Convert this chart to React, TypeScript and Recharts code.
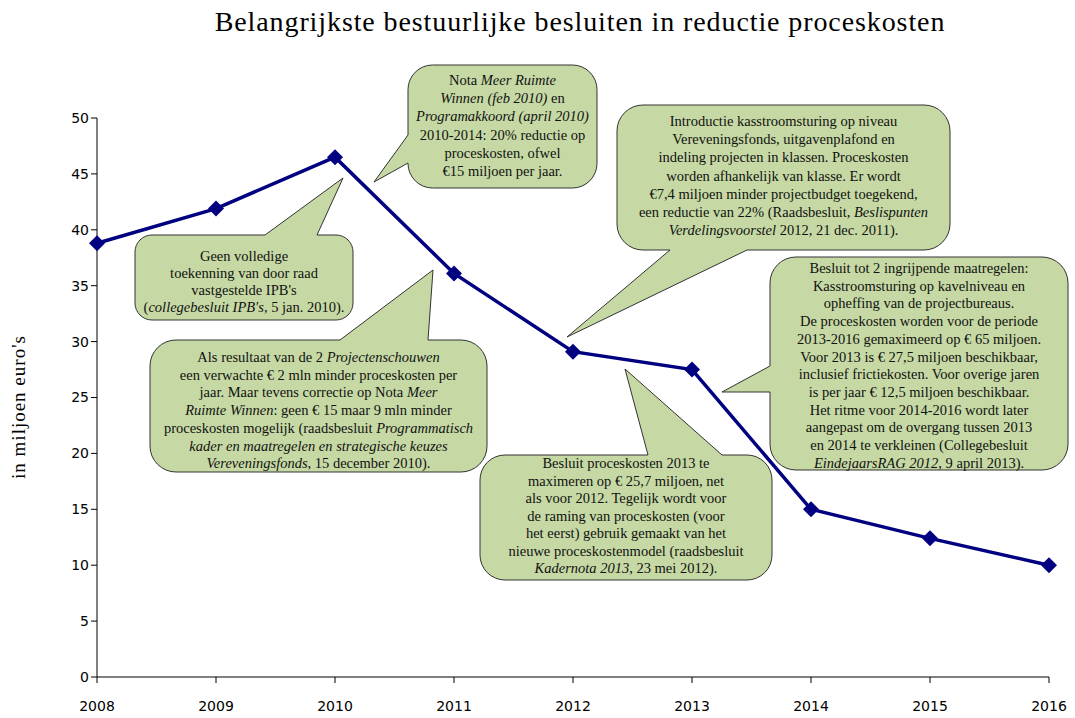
import { LineChart, Line, XAxis, YAxis } from "recharts"

const years = ["2008", "2009", "2010", "2011", "2012", "2013", "2014", "2015", "2016"]
const costs = [38.8, 41.9, 46.5, 36.1, 29.1, 27.5, 15.0, 12.4, 10.0]
const yTicks = [0, 5, 10, 15, 20, 25, 30, 35, 40, 45, 50]

const title = "Belangrijkste bestuurlijke besluiten in reductie proceskosten"
const yLabel = "in miljoen euro's"

// *...* marks italic
const notaLines = [
  "Nota *Meer Ruimte*",
  "*Winnen (feb 2010)* en",
  "*Programakkoord (april 2010)*",
  "2010-2014: 20% reductie op",
  "proceskosten, ofwel",
  "€15 miljoen per jaar.",
]
const kasstroomLines = [
  "Introductie kasstroomsturing op niveau",
  "Vereveningsfonds, uitgavenplafond en",
  "indeling projecten in klassen. Proceskosten",
  "worden afhankelijk van klasse. Er wordt",
  "€7,4 miljoen minder projectbudget toegekend,",
  "een reductie van 22% (Raadsbesluit, *Beslispunten*",
  "*Verdelingsvoorstel* 2012, 21 dec. 2011).",
]
const ipbLines = [
  "Geen volledige",
  "toekenning van door raad",
  "vastgestelde IPB's",
  "(*collegebesluit IPB's*, 5 jan. 2010).",
]
const schouwLines = [
  "Als resultaat van de 2 *Projectenschouwen*",
  "een verwachte € 2 mln minder proceskosten per",
  "jaar. Maar tevens correctie op Nota *Meer*",
  "*Ruimte Winnen*: geen € 15 maar 9 mln minder",
  "proceskosten mogelijk (raadsbesluit *Programmatisch*",
  "*kader en maatregelen en strategische keuzes*",
  "*Vereveningsfonds*, 15 december 2010).",
]
const ingrijpLines = [
  "Besluit tot 2 ingrijpende maatregelen:",
  "Kasstroomsturing op kavelniveau en",
  "opheffing van de projectbureaus.",
  "De proceskosten worden voor de periode",
  "2013-2016 gemaximeerd op € 65 miljoen.",
  "Voor 2013 is € 27,5 miljoen beschikbaar,",
  "inclusief frictiekosten. Voor overige jaren",
  "is per jaar € 12,5 miljoen beschikbaar.",
  "Het ritme voor 2014-2016 wordt later",
  "aangepast om de overgang tussen 2013",
  "en 2014 te verkleinen (Collegebesluit",
  "*EindejaarsRAG 2012*, 9 april 2013).",
]
const kadernotaLines = [
  "Besluit proceskosten 2013 te",
  "maximeren op € 25,7 miljoen, net",
  "als voor 2012. Tegelijk wordt  voor",
  "de raming van proceskosten (voor",
  "het eerst) gebruik gemaakt van het",
  "nieuwe proceskostenmodel (raadsbesluit",
  "*Kadernota 2013*, 23 mei 2012).",
]

const data = years.map((year, i) => ({ year, cost: costs[i] }))

type Tail = { side: "top" | "bottom" | "left" | "right"; a: number; b: number; tip: [number, number] }
type Note = { x: number; y: number; w: number; h: number; tail: Tail; lines: string[]; first: number; lh: number }

const notes: Note[] = [
  { x: 408, y: 65, w: 189, h: 123, tail: { side: "left", a: 135, b: 163, tip: [374, 182] }, lines: notaLines, first: 85, lh: 18.2 },
  { x: 617, y: 105, w: 333, h: 145, tail: { side: "bottom", a: 670, b: 747, tip: [567, 337] }, lines: kasstroomLines, first: 126, lh: 18.2 },
  { x: 135, y: 235, w: 218, h: 85, tail: { side: "top", a: 265, b: 317, tip: [343, 178] }, lines: ipbLines, first: 261, lh: 17 },
  { x: 150, y: 340, w: 337, h: 132, tail: { side: "top", a: 340, b: 428, tip: [433, 270] }, lines: schouwLines, first: 362, lh: 17.7 },
  { x: 770, y: 257, w: 298, h: 213, tail: { side: "left", a: 366, b: 392, tip: [722, 392] }, lines: ingrijpLines, first: 273, lh: 17.7 },
  { x: 480, y: 455, w: 292, h: 125, tail: { side: "top", a: 648, b: 722, tip: [625, 369] }, lines: kadernotaLines, first: 468, lh: 17.5 },
]

function bubblePath(n: Note) {
  const { x, y, w, h, tail } = n
  const r = Math.min(26, Math.min(w, h) * 0.2)
  const R = x + w
  const B = y + h
  const tip = `L${tail.tip[0]},${tail.tip[1]}`
  let d = `M${x + r},${y}`
  if (tail.side === "top") d += ` L${tail.a},${y} ${tip} L${tail.b},${y}`
  d += ` L${R - r},${y} A${r},${r} 0 0 1 ${R},${y + r}`
  if (tail.side === "right") d += ` L${R},${tail.a} ${tip} L${R},${tail.b}`
  d += ` L${R},${B - r} A${r},${r} 0 0 1 ${R - r},${B}`
  if (tail.side === "bottom") d += ` L${tail.b},${B} ${tip} L${tail.a},${B}`
  d += ` L${x + r},${B} A${r},${r} 0 0 1 ${x},${B - r}`
  if (tail.side === "left") d += ` L${x},${tail.b} ${tip} L${x},${tail.a}`
  d += ` L${x},${y + r} A${r},${r} 0 0 1 ${x + r},${y} Z`
  return d
}

function Callout({ n }: { n: Note }) {
  const cx = n.x + n.w / 2
  return (
    <g>
      <path d={bubblePath(n)} fill="#c6d9a4" stroke="#333" strokeWidth={1} />
      {n.lines.map((line, i) => (
        <text key={i} x={cx} y={n.first + i * n.lh} textAnchor="middle" fontSize={14.5} fill="#111"
          fontFamily="'Liberation Serif', serif">
          {line.split("*").map((part, j) => (
            <tspan key={j} fontStyle={j % 2 === 1 ? "italic" : "normal"}>{part}</tspan>
          ))}
        </text>
      ))}
    </g>
  )
}

const Diamond = (props: any) => {
  const { cx, cy, index } = props
  const s = 8
  return <polygon key={index} points={`${cx},${cy - s} ${cx + s},${cy} ${cx},${cy + s} ${cx - s},${cy}`} fill="#000080" />
}

export default function App() {
  const tickStyle = { fill: "#000", fontSize: 14, fontFamily: "'DejaVu Sans', sans-serif" }
  return (
    <div style={{ position: "absolute", left: 0, top: 0, width: 1075, height: 718, background: "#fff" }}>
      <LineChart width={1075} height={718} data={data} margin={{ top: 118, right: 26, bottom: 11, left: 37 }}>
        <XAxis dataKey="year" interval={0} tickSize={6} tickMargin={18} height={30}
          axisLine={{ stroke: "#000" }} tickLine={{ stroke: "#000" }} tick={tickStyle} />
        <YAxis domain={[0, 50]} ticks={yTicks} interval={0} width={60} tickSize={6}
          axisLine={{ stroke: "#000" }} tickLine={{ stroke: "#000" }} tick={tickStyle} />
        <Line dataKey="cost" stroke="#000080" strokeWidth={3.5} dot={Diamond} isAnimationActive={false} />
      </LineChart>
      <svg width={1075} height={718} style={{ position: "absolute", left: 0, top: 0, pointerEvents: "none" }}>
        <text x={580} y={31} textAnchor="middle" fontSize={28} letterSpacing={0.9} fill="#000"
          fontFamily="'Liberation Serif', serif">{title}</text>
        <text transform="translate(25,407) rotate(-90)" textAnchor="middle" fontSize={19} letterSpacing={1} fill="#000"
          fontFamily="'Liberation Serif', serif">{yLabel}</text>
        {notes.map((n, i) => <Callout key={i} n={n} />)}
      </svg>
    </div>
  )
}
